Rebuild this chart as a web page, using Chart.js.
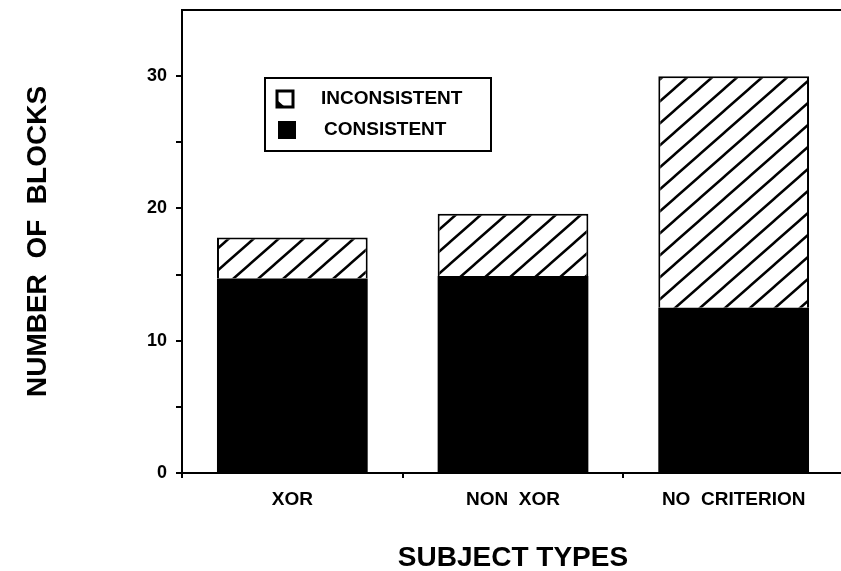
<!DOCTYPE html>
<html>
<head>
<meta charset="utf-8">
<script src="https://cdn.jsdelivr.net/npm/chart.js@4.4.1/dist/chart.umd.min.js"></script>
<style>
  html, body { margin: 0; padding: 0; background: #fff; overflow: hidden; }
  #wrap { width: 850px; height: 571px; }
</style>
</head>
<body>
<div id="wrap"><canvas id="blocksChart" width="850" height="571"></canvas></div>
<script>
// Data
const subjectTypes = ['XOR', 'NON  XOR', 'NO  CRITERION'];
const consistent = [14.7, 14.9, 12.5];
const inconsistent = [3.1, 4.7, 17.5];
const yTickLabels = [0, 10, 20, 30];

const FONT = "'Liberation Sans', Arial, sans-serif";

// hatch "/" pattern for the inconsistent blocks
function makeHatch() {
  const tile = document.createElement('canvas');
  tile.width = 25;
  tile.height = 22;
  const c = tile.getContext('2d');
  c.fillStyle = '#fff';
  c.fillRect(0, 0, 25, 22);
  c.strokeStyle = '#000';
  c.lineWidth = 2.5;
  c.beginPath();
  for (const k of [-25, 0, 25]) {
    c.moveTo(k - 25, 44);
    c.lineTo(k + 50, -22);
  }
  c.stroke();
  return c.createPattern(tile, 'repeat');
}

// top frame line (plot is open on the right, cut by the page edge)
const topFrame = {
  id: 'topFrame',
  afterDraw(chart) {
    const { ctx, chartArea } = chart;
    ctx.save();
    ctx.strokeStyle = '#000';
    ctx.lineWidth = 2;
    ctx.beginPath();
    ctx.moveTo(chartArea.left - 1, chartArea.top);
    ctx.lineTo(chart.width, chartArea.top);
    ctx.stroke();
    ctx.restore();
  }
};

// boxed legend inside the plot
const legendBox = {
  id: 'legendBox',
  afterDraw(chart) {
    const ctx = chart.ctx;
    const ds = chart.data.datasets;
    ctx.save();
    ctx.strokeStyle = '#000';
    ctx.lineWidth = 2;
    ctx.strokeRect(265, 78, 226, 73);

    // inconsistent icon: open square with a dark corner
    ctx.lineWidth = 3;
    ctx.strokeRect(277, 91, 16, 16);
    ctx.fillStyle = '#000';
    ctx.beginPath();
    ctx.moveTo(277, 107);
    ctx.lineTo(277, 100);
    ctx.lineTo(285, 107);
    ctx.closePath();
    ctx.fill();

    // consistent icon: solid square
    ctx.fillRect(278, 121, 18, 18);

    ctx.font = 'bold 19px ' + FONT;
    ctx.textBaseline = 'middle';
    ctx.textAlign = 'left';
    ctx.fillText(ds[1].label, 321, 99);
    ctx.fillText(ds[0].label, 324, 130);
    ctx.restore();
  }
};

const ctx = document.getElementById('blocksChart');

new Chart(ctx, {
  type: 'bar',
  data: {
    labels: subjectTypes,
    datasets: [
      {
        label: 'CONSISTENT',
        data: consistent,
        backgroundColor: '#000',
        borderColor: '#000',
        borderWidth: 0,
        barPercentage: 0.683,
        categoryPercentage: 1
      },
      {
        label: 'INCONSISTENT',
        data: inconsistent,
        backgroundColor: makeHatch(),
        borderColor: '#000',
        borderWidth: 2,
        barPercentage: 0.683,
        categoryPercentage: 1
      }
    ]
  },
  options: {
    responsive: false,
    animation: false,
    layout: { padding: { left: 10, top: 10, right: 6, bottom: 0 } },
    plugins: {
      legend: { display: false },
      tooltip: { enabled: false }
    },
    scales: {
      x: {
        stacked: true,
        grid: { offset: true, drawOnChartArea: false, color: '#000', lineWidth: 2, tickLength: 5 },
        border: { color: '#000', width: 2 },
        ticks: {
          color: '#000',
          font: { family: FONT, size: 19, weight: 'bold' },
          padding: 10,
          maxRotation: 0,
          autoSkip: false
        },
        title: {
          display: true,
          text: 'SUBJECT TYPES',
          color: '#000',
          font: { family: FONT, size: 28, weight: 'bold', lineHeight: 0.9 },
          padding: 0
        },
        afterFit: (scale) => {
          scale.height = 98;
          scale.paddingLeft = 0;
          scale.paddingRight = 0;
        }
      },
      y: {
        stacked: true,
        min: 0,
        max: 35,
        grid: { drawOnChartArea: false, color: '#000', lineWidth: 2, tickLength: 6 },
        border: { color: '#000', width: 2 },
        ticks: {
          stepSize: 5,
          color: '#000',
          font: { family: FONT, size: 18, weight: 'bold' },
          padding: 9,
          callback: (v) => yTickLabels.includes(v) ? String(v) : ''
        },
        afterBuildTicks: (scale) => {
          scale.ticks = scale.ticks.filter(t => t.value <= 30);
        },
        title: {
          display: true,
          text: 'NUMBER  OF  BLOCKS',
          color: '#000',
          font: { family: FONT, size: 28, weight: 'bold' },
          padding: { top: 11, bottom: 0 }
        },
        afterFit: (scale) => {
          scale.width = 172;
          scale.paddingTop = 0;
          scale.paddingBottom = 0;
        }
      }
    }
  },
  plugins: [topFrame, legendBox]
});
</script>
</body>
</html>
